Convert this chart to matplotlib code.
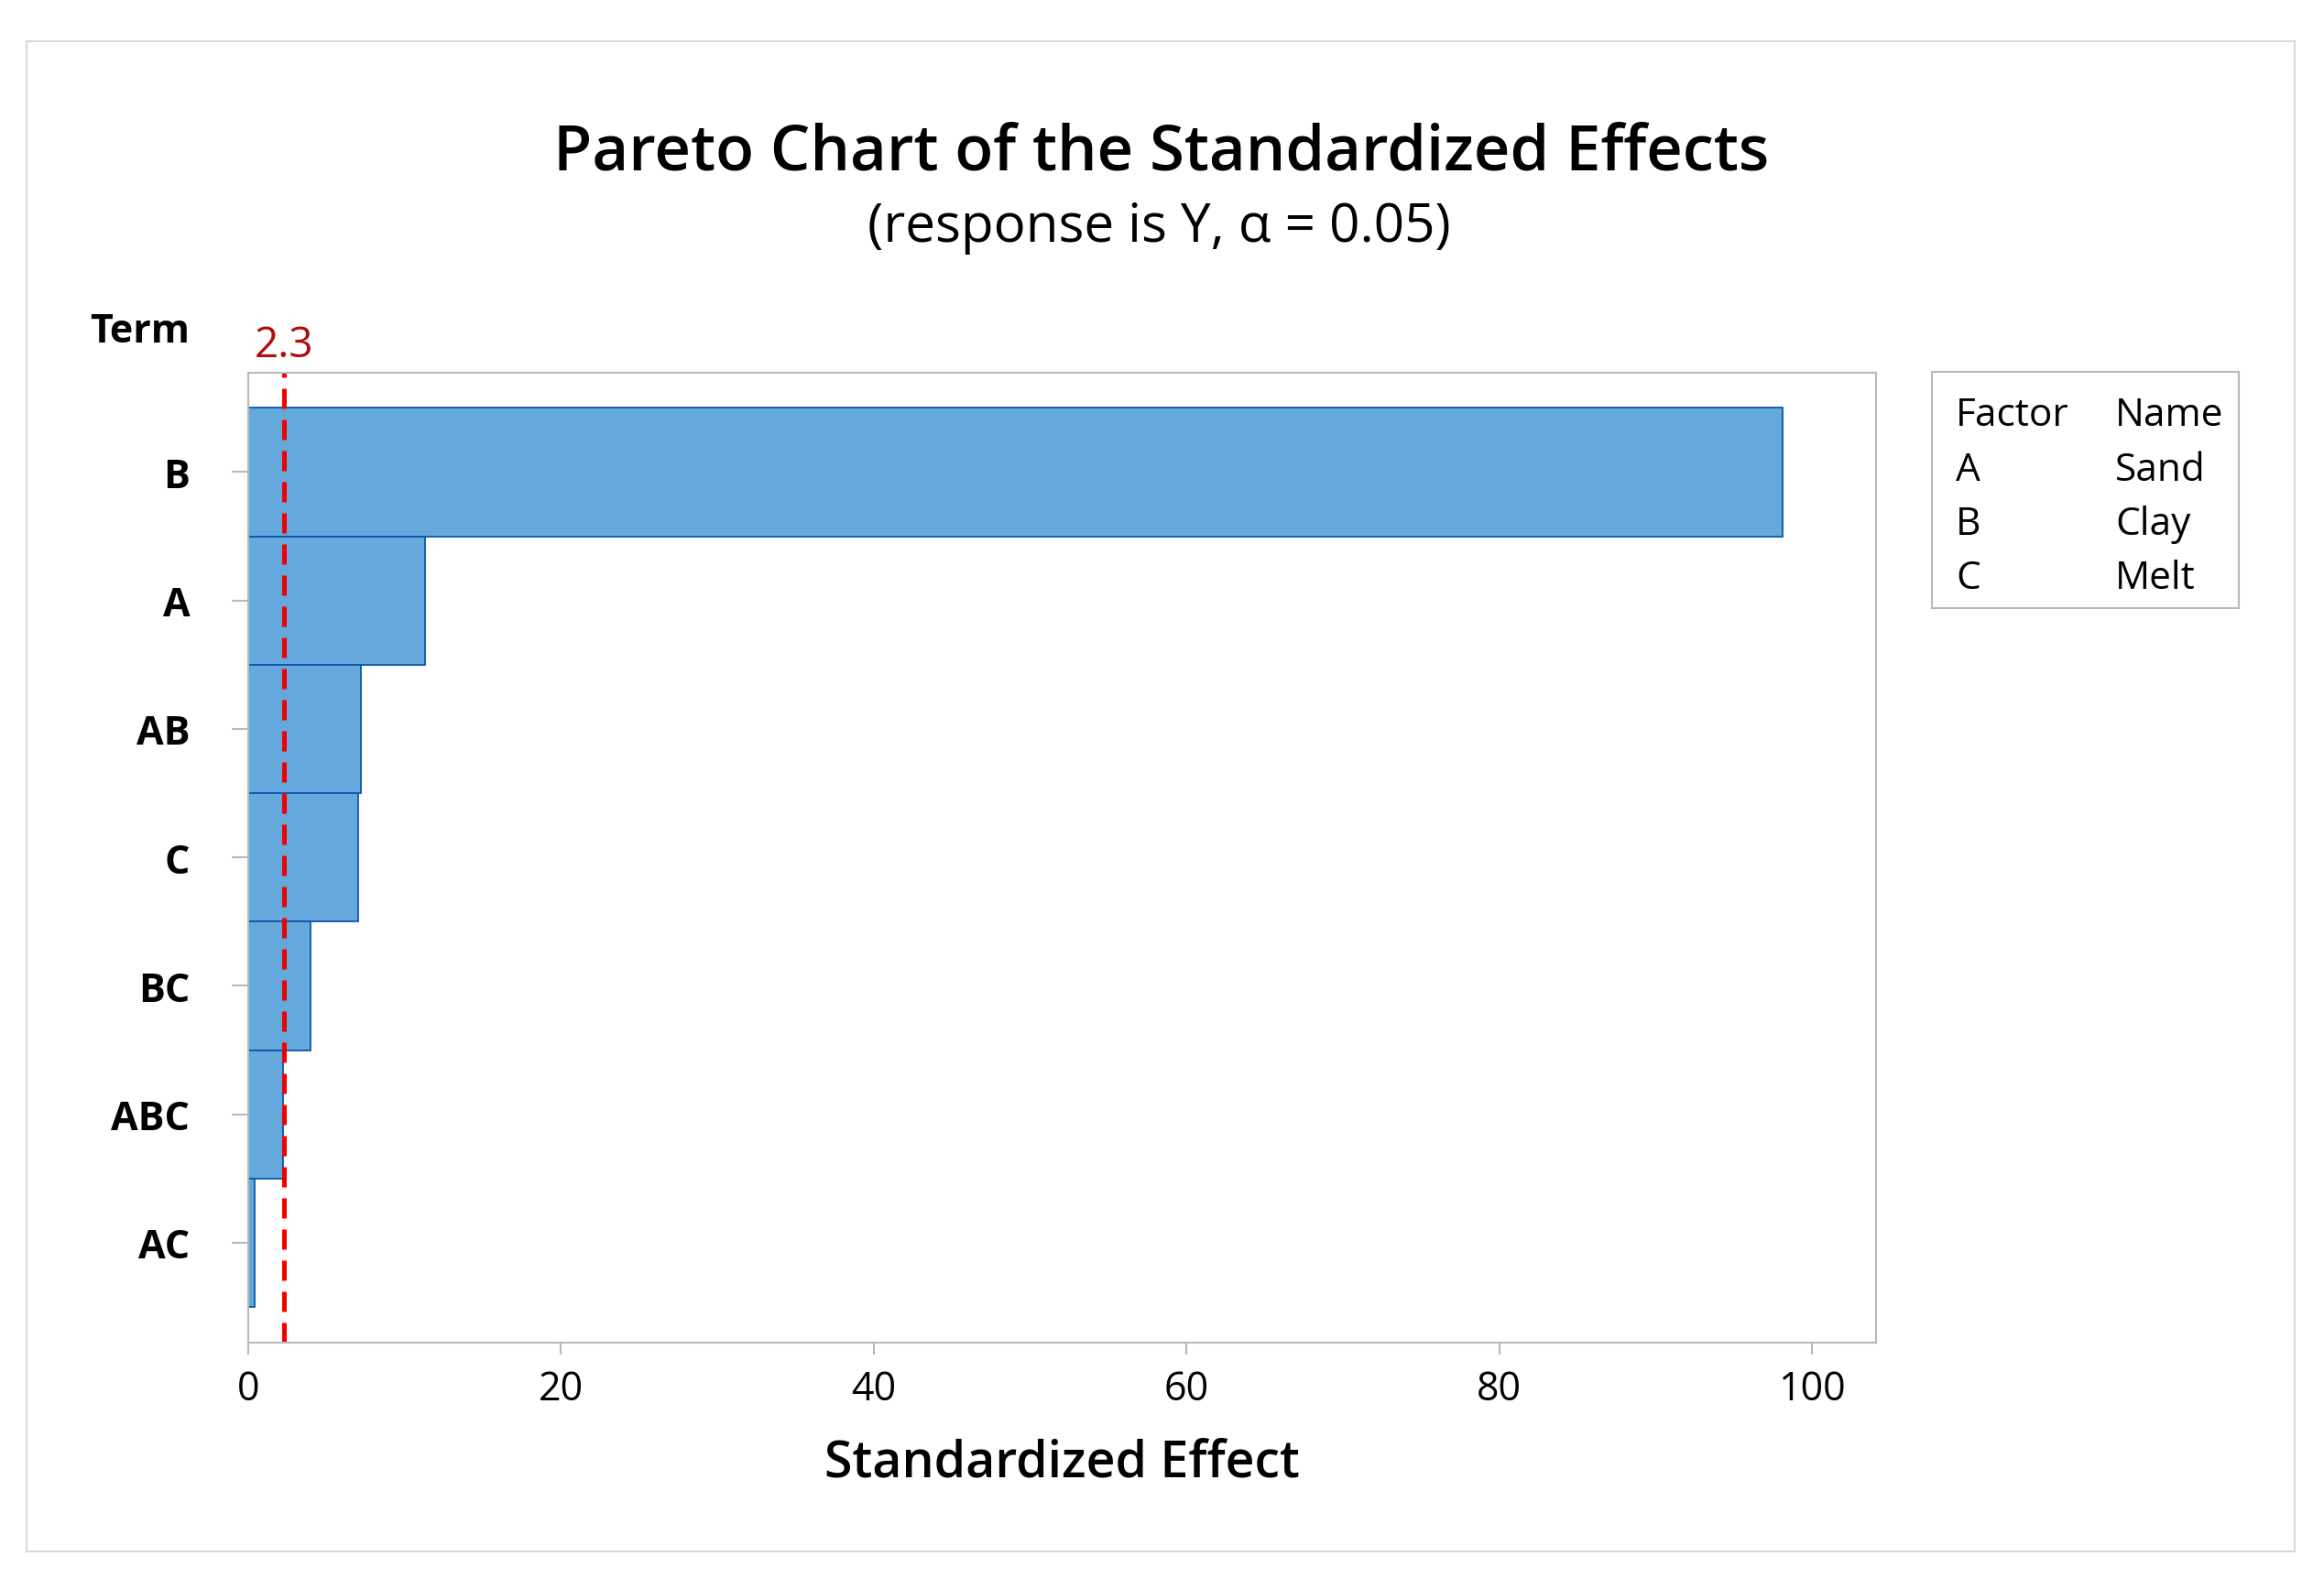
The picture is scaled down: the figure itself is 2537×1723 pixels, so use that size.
import numpy as np
import matplotlib
matplotlib.use('Agg')
import matplotlib.pyplot as plt
from matplotlib.patches import Rectangle

plt.rcParams['font.family'] = ['Open Sans', 'DejaVu Sans']

# data
terms = ['B', 'A', 'AB', 'C', 'BC', 'ABC', 'AC']
effects = [98.1, 11.35, 7.25, 7.05, 4.0, 2.25, 0.45]
critical = 2.3
factors = ['A', 'B', 'C']
names = ['Sand', 'Clay', 'Melt']
xticks = [0, 20, 40, 60, 80, 100]

W, H = 2537, 1724
fig = plt.figure(figsize=(W / 100, H / 100), dpi=100)

def fx(px):
    return px / W

def fy(py):
    return 1 - py / H

# outer frame
fig.patches.append(Rectangle((fx(29), fy(1695)), fx(2505) - fx(29), fy(46) - fy(1695),
                             transform=fig.transFigure, fill=False,
                             edgecolor='#d9d9d9', linewidth=1.5))

ax = fig.add_axes([fx(270.7), fy(1466.7), fx(2048) - fx(270.7), fy(407.7) - fy(1466.7)])

ypos = np.arange(len(terms))
ax.barh(ypos, effects, height=1.0, left=0, color='#65a8db', edgecolor='#0a56ad', linewidth=1.3)
ax.axvline(critical, color='#f00000', linewidth=3.6, linestyle=(0, (4.4, 2.4)))

ax.set_xlim(0, 104.1)
ax.set_ylim(6.775, -0.775)
ax.set_xticks(xticks)
ax.set_yticks(ypos)
ax.set_yticklabels(terms, fontweight='bold')

for s in ax.spines.values():
    s.set_color('#b9b9b9')
    s.set_linewidth(1.5)

ax.tick_params(axis='x', colors='#b9b9b9', labelcolor='black', labelsize=31,
               length=9, width=1.5, pad=12)
ax.tick_params(axis='y', colors='#b9b9b9', labelcolor='black', labelsize=31,
               length=12.7, width=1.5, pad=33)

ax.set_xlabel('Standardized Effect', fontsize=40, fontweight='semibold', va='center')
ax.xaxis.set_label_coords(0.5, -0.124)

ax.text(critical, 1.028, '2.3', transform=ax.get_xaxis_transform(), color='#b00d0d',
        fontsize=33, ha='center', va='center')

fig.text(fx(207), fy(362), 'Term', fontsize=31, fontweight='bold', ha='right', va='center')

fig.text(fx(1268), fy(168), 'Pareto Chart of the Standardized Effects', fontsize=49.5,
         fontweight='semibold', ha='center', va='center')
fig.text(fx(1265), fy(249), '(response is Y, \u03b1 = 0.05)', fontsize=42,
         ha='center', va='center')

# factor legend box
fig.patches.append(Rectangle((fx(2109), fy(665.3)), fx(2444) - fx(2109), fy(407.3) - fy(665.3),
                             transform=fig.transFigure, fill=False,
                             edgecolor='#b9b9b9', linewidth=1.5))
fig.text(fx(2135), fy(465), 'Factor', fontsize=30.5, ha='left', va='baseline')
fig.text(fx(2309), fy(465), 'Name', fontsize=30.5, ha='left', va='baseline')
for i, (f, n) in enumerate(zip(factors, names)):
    yb = 525 + i * 59.2
    fig.text(fx(2135), fy(yb), f, fontsize=30.5, ha='left', va='baseline')
    fig.text(fx(2309), fy(yb), n, fontsize=30.5, ha='left', va='baseline')

fig.savefig('out.png', dpi=100)
